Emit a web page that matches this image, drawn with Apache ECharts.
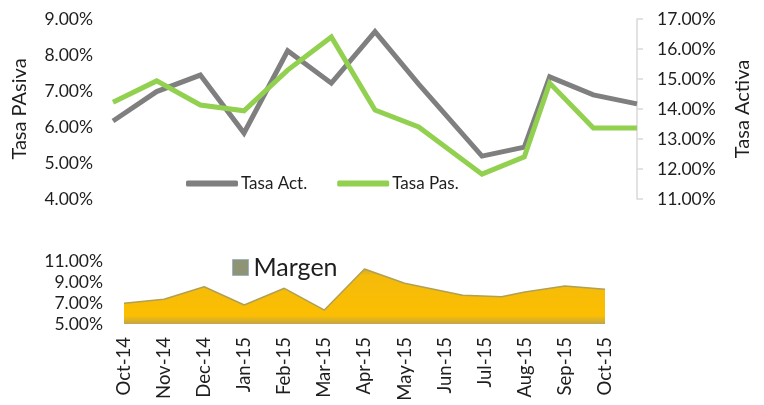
<!DOCTYPE html>
<html>
<head>
<meta charset="utf-8">
<script src="https://cdn.jsdelivr.net/npm/echarts@6/dist/echarts.min.js"></script>
<style>
  html, body { margin: 0; padding: 0; background: #fff; }
  #chart { width: 764px; height: 405px; }
</style>
</head>
<body>
<div id="chart"></div>
<script>
// meses del eje inferior
var months = ["Oct-14", "Nov-14", "Dec-14", "Jan-15", "Feb-15", "Mar-15", "Apr-15",
  "May-15", "Jun-15", "Jul-15", "Aug-15", "Sep-15", "Oct-15"];
// posicion de cada dato en meses (los datos de jun/jul no caen a inicio de mes)
var monthPos = [0, 1, 2, 3, 4, 5, 6, 7, 8.45, 9.42, 10, 11, 12];
var tasaAct = [13.60, 14.58, 15.13, 13.20, 15.94, 14.86, 16.58, 14.83, 12.43, 12.73, 15.07, 14.47, 14.17];
var tasaPas = [6.69, 7.28, 6.61, 6.45, 7.58, 8.50, 6.47, 6.00, 4.69, 5.17, 7.22, 5.97, 5.97];
var margen = [6.97, 7.35, 8.55, 6.81, 8.40, 6.33, 10.24, 8.88, 7.74, 7.60, 8.05, 8.62, 8.30];

var FONT = "Lato";
var TXT = "#1e1e1e";

function pairs(vals) {
  return vals.map(function (v, i) { return [monthPos[i], v]; });
}
function pct(v) { return v.toFixed(2) + "%"; }

var chart = echarts.init(document.getElementById("chart"));

var option = {
  animation: false,
  textStyle: { fontFamily: FONT },
  legend: [
    {
      data: ["Tasa Act.", "Tasa Pas."],
      left: 181,
      top: 170,
      icon: "roundRect",
      itemWidth: 52,
      itemHeight: 6,
      itemGap: 30,
      textStyle: { fontFamily: FONT, fontSize: 17, color: TXT, padding: [0, 0, 0, -2] }
    },
    {
      data: ["Margen"],
      left: 227,
      top: 250,
      icon: "rect",
      itemWidth: 16,
      itemHeight: 16,
      itemStyle: { color: "#8f9474", borderColor: "#9db3c9", borderWidth: 1 },
      lineStyle: { opacity: 0 },
      textStyle: { fontFamily: FONT, fontSize: 25, color: TXT }
    }
  ],
  grid: [
    { left: 113, right: 127, top: 19, height: 180 },
    { left: 124, right: 159, top: 261, height: 63 }
  ],
  xAxis: [
    {
      gridIndex: 0, type: "value", min: 0, max: 12, interval: 1, show: false,
      splitLine: { show: false }
    },
    {
      gridIndex: 1, type: "value", min: 0, max: 12, interval: 1,
      axisLine: { show: false },
      axisTick: { show: false },
      splitLine: { show: false },
      axisLabel: {
        rotate: 90, margin: 13, fontSize: 18.5, color: TXT, fontFamily: FONT,
        showMinLabel: true, showMaxLabel: true,
        formatter: function (v) { return months[Math.round(v)] || ""; }
      }
    }
  ],
  yAxis: [
    {
      gridIndex: 0, type: "value", min: 4, max: 9, interval: 1,
      name: "Tasa PAsiva", nameLocation: "middle", nameGap: 83, nameRotate: 90,
      nameTextStyle: { fontSize: 20, color: TXT, fontFamily: FONT },
      axisLine: { show: false }, axisTick: { show: false }, splitLine: { show: false },
      axisLabel: { fontSize: 17.5, color: TXT, margin: 20, formatter: pct }
    },
    {
      gridIndex: 0, type: "value", min: 11, max: 17, interval: 1, position: "right",
      name: "Tasa Activa", nameLocation: "middle", nameGap: 96, nameRotate: 90,
      nameTextStyle: { fontSize: 20, color: TXT, fontFamily: FONT },
      axisLine: { show: true, lineStyle: { color: "#d9d9d9", width: 1.5 } },
      axisTick: { show: true, length: 6, lineStyle: { color: "#d9d9d9", width: 1.5 } },
      splitLine: { show: false },
      axisLabel: { fontSize: 17.5, color: TXT, margin: 20, formatter: pct }
    },
    {
      gridIndex: 1, type: "value", min: 5, max: 11, interval: 2,
      axisLine: { show: false }, axisTick: { show: false }, splitLine: { show: false },
      axisLabel: { fontSize: 17.5, color: TXT, margin: 21, formatter: pct }
    }
  ],
  series: [
    {
      name: "Tasa Act.", type: "line", xAxisIndex: 0, yAxisIndex: 1,
      data: pairs(tasaAct), symbol: "none", color: "#7f7f7f",
      lineStyle: { width: 5, color: "#7f7f7f", join: "miter" }
    },
    {
      name: "Tasa Pas.", type: "line", xAxisIndex: 0, yAxisIndex: 0,
      data: pairs(tasaPas), symbol: "none", color: "#92d050",
      lineStyle: { width: 5, color: "#92d050", join: "miter" }
    },
    {
      name: "Margen", type: "line", xAxisIndex: 1, yAxisIndex: 2,
      data: pairs(margen), symbol: "none", color: "#8f9474",
      lineStyle: { width: 1.5, color: "#b0a055" },
      areaStyle: {
        origin: "start",
        opacity: 1,
        color: new echarts.graphic.LinearGradient(0, 0, 0, 1, [
          { offset: 0, color: "#d2aa2c" },
          { offset: 0.12, color: "#f5bb0a" },
          { offset: 0.85, color: "#fbbe02" },
          { offset: 1, color: "#c2a646" }
        ])
      }
    }
  ]
};

chart.setOption(option);
</script>
</body>
</html>
